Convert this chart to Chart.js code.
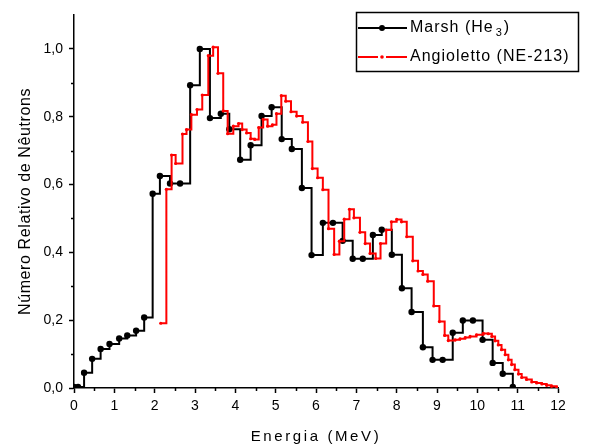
<!DOCTYPE html>
<html><head><meta charset="utf-8">
<script src="https://cdn.jsdelivr.net/npm/chart.js@4/dist/chart.umd.min.js"></script>
<style>html,body{margin:0;padding:0;background:#fff;overflow:hidden}#wrap{width:604px;height:446px;position:relative}</style>
</head><body><div id="wrap"><canvas id="c" width="604" height="446"></canvas></div>
<script>
// ---- data ----
const marshEnergy = [0.00,0.10,0.25,0.45,0.66,0.88,1.12,1.32,1.54,1.74,1.95,2.13,2.38,2.63,2.88,3.12,3.37,3.64,3.85,4.12,4.38,4.65,4.90,5.15,5.40,5.65,5.89,6.17,6.42,6.66,6.91,7.16,7.41,7.63,7.88,8.13,8.37,8.65,8.89,9.14,9.39,9.64,9.89,10.13,10.38,10.63,10.88];
const marshCounts = [0.003,0.003,0.045,0.086,0.115,0.130,0.146,0.155,0.169,0.208,0.573,0.625,0.603,0.603,0.893,1.000,0.796,0.809,0.763,0.673,0.716,0.802,0.828,0.734,0.705,0.590,0.392,0.487,0.487,0.434,0.381,0.381,0.451,0.467,0.393,0.294,0.224,0.120,0.083,0.083,0.163,0.199,0.199,0.142,0.074,0.042,0.003];
const angEnergy = [2.15,2.29,2.42,2.52,2.69,2.79,2.91,3.05,3.18,3.33,3.45,3.57,3.70,3.81,3.95,4.08,4.17,4.28,4.38,4.48,4.58,4.69,4.80,4.92,5.02,5.14,5.25,5.38,5.52,5.67,5.80,5.91,6.04,6.17,6.31,6.45,6.58,6.70,6.83,6.94,7.09,7.22,7.34,7.48,7.60,7.74,7.87,8.00,8.12,8.25,8.40,8.53,8.65,8.77,8.92,9.06,9.19,9.28,9.45,9.57,9.70,9.82,9.98,10.15,10.27,10.36,10.44,10.52,10.60,10.69,10.77,10.85,10.93,11.02,11.10,11.22,11.35,11.47,11.60,11.72,11.84,11.97];
const angCounts = [0.191,0.586,0.687,0.662,0.749,0.762,0.806,0.821,0.864,0.980,1.005,0.928,0.817,0.750,0.772,0.780,0.762,0.752,0.735,0.733,0.768,0.792,0.772,0.776,0.809,0.862,0.846,0.815,0.802,0.784,0.727,0.647,0.620,0.585,0.470,0.394,0.433,0.498,0.527,0.502,0.459,0.426,0.397,0.382,0.426,0.466,0.490,0.497,0.490,0.446,0.375,0.345,0.335,0.315,0.242,0.196,0.155,0.140,0.142,0.145,0.149,0.152,0.157,0.161,0.160,0.152,0.139,0.127,0.113,0.098,0.083,0.069,0.054,0.041,0.031,0.025,0.018,0.015,0.012,0.008,0.005,0.002];
const seriesNames = ['Marsh (He₃)', 'Angioletto (NE-213)'];
const xTickValues = [0,1,2,3,4,5,6,7,8,9,10,11,12];
const yTickValues = [0,0.2,0.4,0.6,0.8,1.0];
const xMinorValues = [0.5,1.5,2.5,3.5,4.5,5.5,6.5,7.5,8.5,9.5,10.5,11.5];
const yMinorValues = [0.1,0.3,0.5,0.7,0.9];
const xTitle = 'Energia (MeV)';
const yTitle = 'Número Relativo de Nêutrons';

const FONT = '"Liberation Sans", Arial, sans-serif';
const toPts = (xs, ys) => xs.map((x, i) => ({x: x, y: ys[i]}));

const spacingPlugin = {
  id: 'spacing',
  beforeDraw(chart) {
    const wrap = (scale, sp) => {
      if (!scale || scale._spWrapped) return;
      const orig = scale.drawTitle;
      scale.drawTitle = function () {
        const c = this.ctx; c.save();
        if ('letterSpacing' in c) c.letterSpacing = sp;
        orig.apply(this, arguments); c.restore();
      };
      scale._spWrapped = true;
    };
    wrap(chart.scales.x, '2.6px');
    wrap(chart.scales.y, '0.6px');
  }
};

const minorPlugin = {
  id: 'minor',
  afterDraw(chart) {
    const {ctx, scales: {x, y}, chartArea} = chart;
    ctx.save();
    ctx.strokeStyle = '#000'; ctx.lineWidth = 1.5;
    ctx.beginPath();
    xMinorValues.forEach(v => {
      const px = Math.round(x.getPixelForValue(v)) + 0.5;
      ctx.moveTo(px, chartArea.bottom); ctx.lineTo(px, chartArea.bottom + 3);
    });
    yMinorValues.forEach(v => {
      const py = Math.round(y.getPixelForValue(v)) + 0.5;
      ctx.moveTo(chartArea.left, py); ctx.lineTo(chartArea.left - 3, py);
    });
    ctx.stroke();
    ctx.restore();
  }
};

const legendPlugin = {
  id: 'boxLegend',
  afterDraw(chart, args, o) {
    const ctx = chart.ctx;
    const ds = chart.data.datasets;
    ctx.save();
    ctx.strokeStyle = '#000'; ctx.lineWidth = 1.5;
    ctx.strokeRect(o.x + 0.5, o.y + 0.5, o.w, o.h);
    const rows = [o.y + 16, o.y + 45];
    const lx0 = o.x + 2, lx1 = o.x + 51, cx = o.x + 26;
    // row 1 black
    ctx.strokeStyle = ds[0].borderColor; ctx.lineWidth = 2;
    ctx.beginPath(); ctx.moveTo(lx0, rows[0]); ctx.lineTo(lx1, rows[0]); ctx.stroke();
    ctx.fillStyle = ds[0].borderColor;
    ctx.beginPath(); ctx.arc(cx, rows[0], 3, 0, Math.PI * 2); ctx.fill();
    // row 2 red
    ctx.strokeStyle = ds[1].borderColor;
    ctx.beginPath(); ctx.moveTo(lx0, rows[1]); ctx.lineTo(cx - 4, rows[1]);
    ctx.moveTo(cx + 4, rows[1]); ctx.lineTo(lx1, rows[1]); ctx.stroke();
    ctx.fillStyle = ds[1].borderColor;
    ctx.beginPath(); ctx.arc(cx, rows[1], 1.8, 0, Math.PI * 2); ctx.fill();
    // texts
    ctx.fillStyle = '#000';
    ctx.textBaseline = 'middle'; ctx.textAlign = 'left';
    if ('letterSpacing' in ctx) ctx.letterSpacing = '1px';
    ctx.font = '16px ' + FONT;
    const tx = o.x + 54;
    const n0 = seriesNames[0];
    const sub = n0.indexOf('₃');
    const a = n0.slice(0, sub), b = '3', c = n0.slice(sub + 1);
    ctx.fillText(a, tx, rows[0]);
    let w = ctx.measureText(a).width + 2;
    ctx.font = '11px ' + FONT;
    ctx.fillText(b, tx + w, rows[0] + 5);
    w += ctx.measureText(b).width + 1;
    ctx.font = '16px ' + FONT;
    ctx.fillText(c, tx + w, rows[0]);
    ctx.fillText(seriesNames[1], tx, rows[1]);
    ctx.restore();
  }
};

new Chart(document.getElementById('c'), {
  type: 'line',
  data: {
    datasets: [
      {
        label: seriesNames[0], data: toPts(marshEnergy, marshCounts),
        stepped: true, borderColor: '#000000', backgroundColor: '#000000',
        borderWidth: 2, pointRadius: 3.2, pointBorderWidth: 0,
        pointBackgroundColor: '#000000', fill: false, order: 1
      },
      {
        label: seriesNames[1], data: toPts(angEnergy, angCounts),
        stepped: true, borderColor: '#ff0000', backgroundColor: '#ff0000',
        borderWidth: 2, pointRadius: 1.6, pointBorderWidth: 0,
        pointBackgroundColor: '#ff0000', fill: false, order: 0
      }
    ]
  },
  options: {
    responsive: false, animation: false, devicePixelRatio: 1,
    layout: {padding: {left: 0, right: 46, top: 15, bottom: 0}},
    plugins: {
      legend: {display: false}, tooltip: {enabled: false},
      boxLegend: {x: 356, y: 12, w: 222, h: 59}
    },
    scales: {
      x: {
        type: 'linear', min: 0, max: 12,
        afterFit: s => { s.height = 58; },
        afterBuildTicks: s => { s.ticks = xTickValues.map(v => ({value: v})); },
        border: {display: true, color: '#000', width: 1.5},
        grid: {drawOnChartArea: false, drawTicks: true, tickLength: 5, tickColor: '#000', tickWidth: 1.5},
        ticks: {color: '#000', padding: 5, maxRotation: 0, autoSkip: false, font: {family: FONT, size: 14},
          callback: v => String(v)},
        title: {display: true, text: xTitle, color: '#000', font: {family: FONT, size: 15}, padding: {top: 0, bottom: 0}}
      },
      y: {
        type: 'linear', min: 0, max: 1.1,
        afterFit: s => { s.width = 74; },
        afterBuildTicks: s => { s.ticks = yTickValues.map(v => ({value: v})); },
        border: {display: true, color: '#000', width: 1.5},
        grid: {drawOnChartArea: false, drawTicks: true, tickLength: 5, tickColor: '#000', tickWidth: 1.5},
        ticks: {color: '#000', padding: 6, autoSkip: false, font: {family: FONT, size: 14},
          callback: v => v.toFixed(1).replace('.', ',')},
        title: {display: true, text: yTitle, color: '#000', font: {family: FONT, size: 16}, padding: {top: 16, bottom: 0}}
      }
    }
  },
  plugins: [spacingPlugin, minorPlugin, legendPlugin]
});
</script>
</body></html>
